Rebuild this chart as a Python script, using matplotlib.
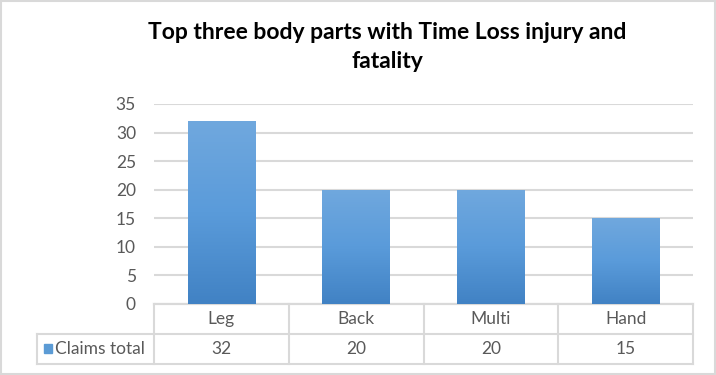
import numpy as np
import matplotlib.pyplot as plt
from matplotlib.colors import LinearSegmentedColormap

# Data
categories = ["Leg", "Back", "Multi", "Hand"]
claims_total = [32, 20, 20, 15]
series_name = "Claims total"
title = "Top three body parts with Time Loss injury and\nfatality"

plt.rcParams["font.family"] = ["Lato", "DejaVu Sans"]
grid_col = "#d9d9d9"
text_col = "#595959"
fs = 12.5

fig = plt.figure(figsize=(7.16, 3.75), dpi=100)
ax = fig.add_axes([154 / 716, 1 - 304 / 375, (693 - 154) / 716, 200 / 375])

x = np.arange(len(categories))
bars = ax.bar(x, claims_total, width=0.5, color="#5b9bd5", zorder=2)

# gradient fill for each bar (lighter at top, darker at bottom)
cmap = LinearSegmentedColormap.from_list("bar", ["#4182c4", "#5a9bda", "#70a8de"])
grad = np.linspace(0, 1, 256).reshape(-1, 1)
for b in bars:
    bx, by = b.get_x(), b.get_y()
    im = ax.imshow(grad, cmap=cmap, origin="lower", aspect="auto",
                   extent=[bx, bx + b.get_width(), by, by + b.get_height()], zorder=3)
    im.set_clip_path(b)

ax.set_xlim(-0.5, len(categories) - 0.5)
ax.set_ylim(0, 35)
ax.set_yticks(range(0, 36, 5))
ax.yaxis.grid(True, color=grid_col, linewidth=1.5, zorder=0)
ax.tick_params(axis="y", length=0, labelsize=fs, labelcolor=text_col, pad=13)
ax.set_xticks([])
for s in ["top", "right", "left"]:
    ax.spines[s].set_visible(False)
ax.spines["bottom"].set_color(grid_col)
ax.spines["bottom"].set_linewidth(1.5)

# data table beneath the axis
trans = ax.get_xaxis_transform()
left_x = -1.368
row1, row2 = -0.15, -0.30
lk = dict(color=grid_col, linewidth=1.5, transform=trans, clip_on=False)
ax.plot([-0.5, len(categories) - 0.5], [0, 0], **lk)
ax.plot([left_x, len(categories) - 0.5], [row1, row1], **lk)
ax.plot([left_x, len(categories) - 0.5], [row2, row2], **lk)
ax.plot([left_x, left_x], [row1, row2], **lk)
for i in range(len(categories) + 1):
    ax.plot([i - 0.5, i - 0.5], [0, row2], **lk)
for i, (c, v) in enumerate(zip(categories, claims_total)):
    ax.text(i, row1 / 2, c, transform=trans, ha="center", va="center",
            fontsize=fs, color=text_col)
    ax.text(i, (row1 + row2) / 2, str(v), transform=trans, ha="center", va="center",
            fontsize=fs, color=text_col)
ax.add_patch(plt.Rectangle((-1.315, -0.247), 0.06, 0.045, transform=trans,
                           clip_on=False, color="#5b9bd5"))
ax.text(-1.235, (row1 + row2) / 2, series_name, transform=trans, ha="left", va="center",
        fontsize=fs, color=text_col)

fig.text(387 / 716, 0.875, title, ha="center", va="center", fontsize=16.5,
         fontweight="bold", color="black", linespacing=1.45)

# chart border
fig.patches.append(plt.Rectangle((0.001, 0.002), 0.997, 0.995, transform=fig.transFigure,
                                 fill=False, edgecolor=grid_col, linewidth=1.5))

fig.savefig("out.png", dpi=100)
